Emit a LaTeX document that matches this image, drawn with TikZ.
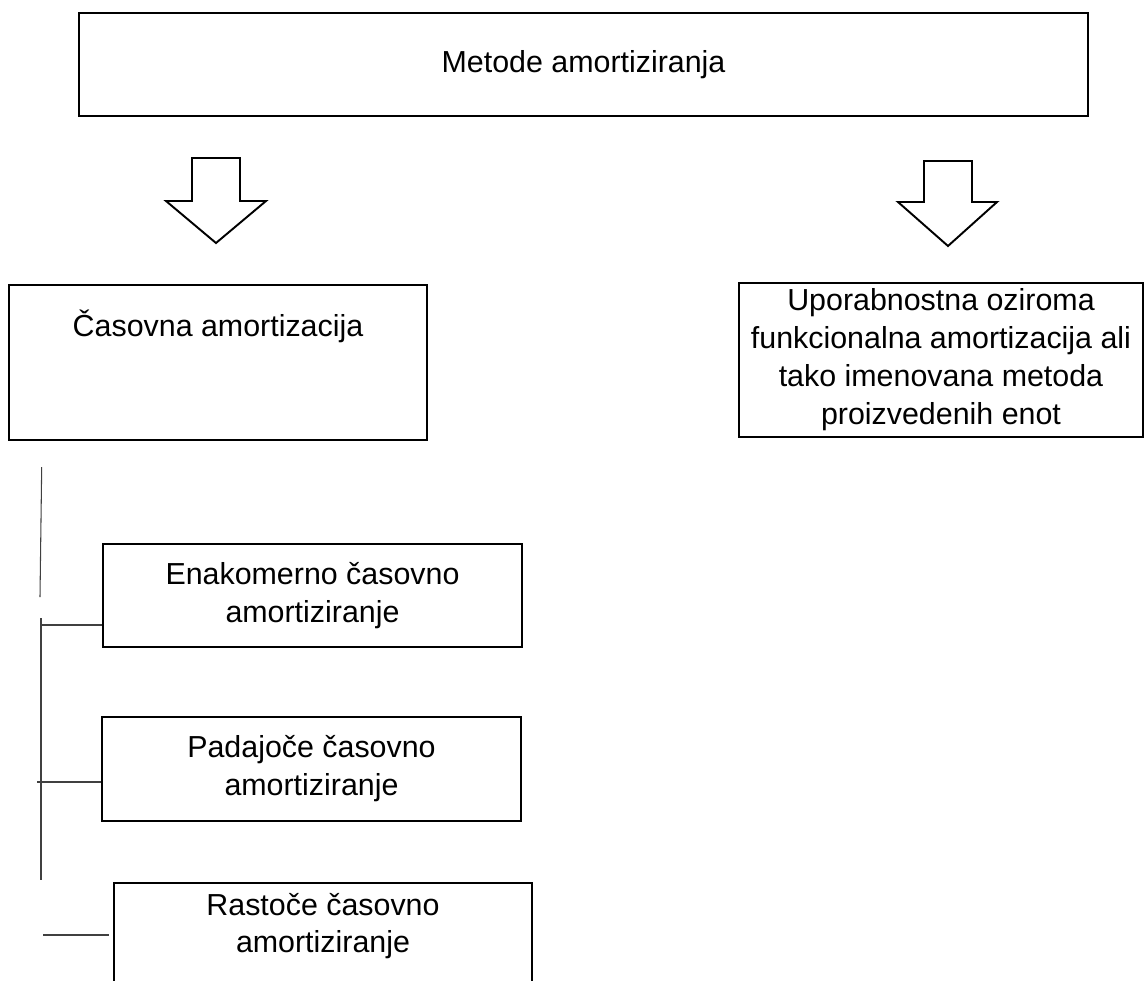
\documentclass[tikz,border=0pt]{standalone}
\usepackage{fontspec}
\setmainfont{Liberation Sans}
\begin{document}
\begin{tikzpicture}[
x=0.02cm, y=-0.02cm,
font=\fontsize{17.3}{21.6}\selectfont
]

\tikzstyle{b} = [draw, line width=1.1pt, shape=rectangle, inner sep=0pt, align=center]
\tikzstyle{ln} = [draw=black!75, line width=0.6pt]
\tikzstyle{arr} = [draw, line width=1.1pt, fill=white, line join=miter]

\useasboundingbox (0,0) rectangle (1147,981);

% boxes
\node[b, minimum width=1009*0.02cm, minimum height=103*0.02cm] (metode) at (583.5,64.5) {Metode amortiziranja};
\node[b, minimum width=418*0.02cm, text height=1.04cm, text depth=2.06cm] (casovna) at (218,284) [anchor=north] {Časovna amortizacija};
\node[b, minimum width=404*0.02cm, minimum height=154*0.02cm] (uporabnostna) at (941,360) {Uporabnostna oziroma\\funkcionalna amortizacija ali\\tako imenovana metoda\\proizvedenih enot};
\node[b, minimum width=419*0.02cm, minimum height=103*0.02cm] (enakomerno) at (312.5,595.5) {Enakomerno časovno\\amortiziranje};
\node[b, minimum width=419*0.02cm, minimum height=104*0.02cm] (padajoce) at (311.5,769) {Padajoče časovno\\amortiziranje};
\node[b, minimum width=418*0.02cm, text height=1.4cm, text depth=0.68cm] (rastoce) at (323,882) [anchor=north] {Rastoče časovno\\amortiziranje};

% block arrows
\coordinate (arrleft) at (192,158);
\coordinate (arrright) at (924,161);
\draw[arr] (arrleft) -- ++(48,0) -- ++(0,43) -- ++(26,0) -- ++(-50,42) -- ++(-50,-42) -- ++(26,0) -- cycle;
\draw[arr] (arrright) -- ++(48,0) -- ++(0,41) -- ++(25,0) -- ++(-49,44) -- ++(-50,-44) -- ++(26,0) -- cycle;

% side lines
\coordinate (vtopa) at (41.7,467);
\coordinate (vbota) at (40,597);
\coordinate (vtopb) at (41,618);
\coordinate (vbotb) at (41,880);
\coordinate (enakjoin) at (41,625);
\coordinate (padjoin) at (37,782);
\coordinate (rastjoin) at (43,935);
\coordinate (rastend) at (109,935);
\draw[ln] (vtopa) -- (vbota);
\draw[ln] (vtopb) -- (vbotb);
\draw[ln] (enakjoin) -- (enakjoin -| enakomerno.west);
\draw[ln] (padjoin) -- (padjoin -| padajoce.west);
\draw[ln] (rastjoin) -- (rastend);
\end{tikzpicture}
\end{document}
